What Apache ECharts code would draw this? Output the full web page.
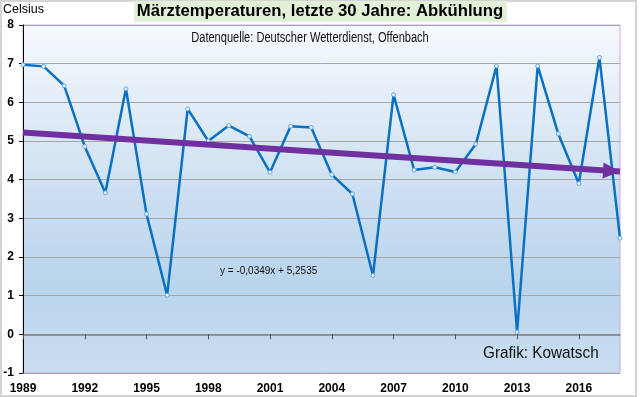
<!DOCTYPE html>
<html>
<head>
<meta charset="utf-8">
<script src="https://cdn.jsdelivr.net/npm/echarts@6/dist/echarts.min.js"></script>
<style>
  html, body { margin: 0; padding: 0; background: #fff; }
  #chart { width: 640px; height: 397px; }
</style>
</head>
<body>
<div id="chart"></div>
<script>
const years = ['1989','1990','1991','1992','1993','1994','1995','1996','1997','1998',
  '1999','2000','2001','2002','2003','2004','2005','2006','2007','2008',
  '2009','2010','2011','2012','2013','2014','2015','2016','2017','2018']
const temps = [6.97, 6.93, 6.43, 4.86, 3.66, 6.35, 3.11, 1.01, 5.83, 5.0,
  5.4, 5.12, 4.19, 5.38, 5.35, 4.13, 3.63, 1.52, 6.2, 4.25,
  4.32, 4.2, 4.92, 6.94, 0.06, 6.94, 5.19, 3.9, 7.16, 2.49]
// Trendlinie: Anfang (1989) und Ende (2018)
const trendYears = ['1989', '2018']
const trendValues = [5.22, 4.21]
const yTicks = { min: -1, max: 8, interval: 1 }

const chart = echarts.init(document.getElementById('chart'))
const option = {
  animation: false,
  backgroundColor: '#fff',
  textStyle: { fontFamily: 'Liberation Sans, Arial, sans-serif' },
  grid: { left: 23, right: 20, top: 25, bottom: 24, show: false },
  graphic: [
    { type: 'rect', silent: true, z: -10,
      shape: { x: 1, y: 1, width: 635, height: 395 },
      style: { fill: 'none', stroke: '#d4d4d4', lineWidth: 2 } },
    { type: 'rect', silent: true, z: -5,
      shape: { x: 23, y: 25, width: 597, height: 348 },
      style: {
        fill: new echarts.graphic.LinearGradient(0, 0, 0, 1, [
          { offset: 0, color: '#f6f9fd' },
          { offset: 0.45, color: '#cfe1f2' },
          { offset: 0.75, color: '#b9d4ec' },
          { offset: 1, color: '#cadef0' }
        ]),
        stroke: '#c9a9e3', lineWidth: 1
      } },
    { type: 'rect', silent: true, z: 5,
      shape: { x: 134, y: 1, width: 373, height: 21 },
      style: { fill: '#e3f0d8' } },
    { type: 'text', silent: true, z: 6, x: 320, y: 3,
      style: { text: 'Märztemperaturen, letzte 30 Jahre: Abkühlung', x: 0, y: 0,
        align: 'center', fill: '#000', font: 'bold 16.7px Liberation Sans, Arial, sans-serif' } },
    { type: 'text', silent: true, z: 6,
      style: { text: 'Celsius', x: 3, y: 3, fill: '#000', font: '12.5px Liberation Sans, Arial, sans-serif' } },
    { type: 'text', silent: true, z: 6, x: 310, y: 31, scaleX: 0.79,
      style: { text: 'Datenquelle: Deutscher Wetterdienst, Offenbach', x: 0, y: 0, align: 'center',
        fill: '#111', font: '14px Liberation Sans, Arial, sans-serif' } },
    { type: 'text', silent: true, z: 6,
      style: { text: 'y = -0,0349x + 5,2535', x: 220, y: 266,
        fill: '#111', font: '10px Liberation Sans, Arial, sans-serif' } },
    { type: 'text', silent: true, z: 6, x: 483, y: 345, scaleX: 0.9,
      style: { text: 'Grafik: Kowatsch', x: 0, y: 0,
        fill: '#111', font: '17px Liberation Sans, Arial, sans-serif' } }
  ],
  xAxis: {
    type: 'category',
    data: years,
    boundaryGap: false,
    axisLine: { lineStyle: { color: '#7f7f7f', width: 1.5 } },
    axisTick: { interval: 2, length: 5, lineStyle: { color: '#555' } },
    axisLabel: { interval: 2, margin: 10, color: '#000', fontWeight: 'bold', fontSize: 12 },
    splitLine: { show: false }
  },
  yAxis: {
    type: 'value',
    min: yTicks.min, max: yTicks.max, interval: yTicks.interval,
    axisLine: { show: true, lineStyle: { color: '#000', width: 1 } },
    axisTick: { show: true, length: 4, inside: false, lineStyle: { color: '#000' } },
    axisLabel: { margin: 9, color: '#000', fontWeight: 'bold', fontSize: 12 },
    splitLine: { lineStyle: { color: '#a6a6a6', width: 1 } }
  },
  series: [
    {
      type: 'line',
      data: temps,
      z: 3,
      symbol: 'circle',
      symbolSize: 4,
      lineStyle: { color: '#0a70c2', width: 2.5 },
      itemStyle: { color: '#e6f0fa', borderColor: '#6aa7dc', borderWidth: 1 }
    },
    {
      type: 'line',
      data: [],
      z: 4,
      markLine: {
        silent: true,
        symbol: ['none', 'triangle'],
        symbolSize: [16, 17],
        symbolOffset: [0, [0, 8.5]],
        label: { show: false },
        lineStyle: { color: '#7030a0', width: 6, type: 'solid', opacity: 1 },
        data: [[
          { coord: [trendYears[0], trendValues[0]] },
          { coord: [trendYears[1], trendValues[1]] }
        ]]
      }
    }
  ]
}
chart.setOption(option)
</script>
</body>
</html>
